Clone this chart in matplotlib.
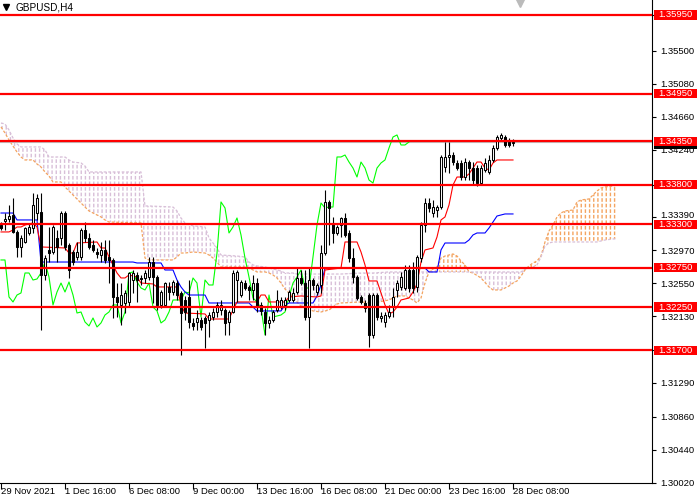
import matplotlib
matplotlib.use("Agg")
import matplotlib.pyplot as plt
import matplotlib.transforms as mtransforms
import numpy as np
from matplotlib.patches import Rectangle

plt.rcParams['font.family'] = ['Liberation Sans', 'DejaVu Sans']
plt.rcParams['hatch.linewidth'] = 1.0

# ---------------- data (GBPUSD H4 candles, bar 0 = 29 Nov 2021 00:00) ----------------
opens = [
    1.33289, 1.33340, 1.33366, 1.33416, 1.33201, 1.33011, 1.33074, 1.33188, 1.33251, 1.33441,
    1.33454, 1.32656, 1.32973, 1.32947, 1.33125, 1.33125, 1.33441, 1.33036, 1.32947, 1.32884,
    1.32884, 1.33226, 1.33125, 1.33036, 1.32947, 1.32909, 1.32973, 1.32884, 1.32846, 1.32377,
    1.32276, 1.32301, 1.32314, 1.32592, 1.32656, 1.32618, 1.32618, 1.32630, 1.32820, 1.32630,
    1.32276, 1.32276, 1.32504, 1.32440, 1.32554, 1.32428, 1.32339, 1.32377, 1.32048, 1.32060,
    1.32086, 1.32111, 1.32086, 1.32124, 1.32187, 1.32212, 1.32212, 1.32060, 1.32187, 1.32592,
    1.32402, 1.32554, 1.32504, 1.32466, 1.32554, 1.32276, 1.32187, 1.32048, 1.32086, 1.32212,
    1.32250, 1.32276, 1.32339, 1.32339, 1.32440, 1.32618, 1.32554, 1.32124, 1.32592, 1.32440,
    1.32529, 1.32934, 1.33581, 1.33315, 1.33188, 1.33289, 1.33378, 1.33188, 1.32871, 1.32630,
    1.32377, 1.32301, 1.32402, 1.31896, 1.32402, 1.32111, 1.32060, 1.32136, 1.32250, 1.32466,
    1.32504, 1.32491, 1.32719, 1.32719, 1.32504, 1.32871, 1.33289, 1.33568, 1.33441, 1.33479,
    1.33517, 1.34024, 1.34151, 1.34176, 1.34075, 1.34075, 1.33897, 1.34087, 1.34011, 1.34011,
    1.33821, 1.33986, 1.33961, 1.34113, 1.34265, 1.34392, 1.34404, 1.34341, 1.34328]
closes = [
    1.33251, 1.33366, 1.33403, 1.33201, 1.33011, 1.33125, 1.33251, 1.33264, 1.33543, 1.33631,
    1.32656, 1.32871, 1.32934, 1.33264, 1.33011, 1.33441, 1.33011, 1.32719, 1.32820, 1.32947,
    1.33226, 1.33125, 1.33011, 1.32973, 1.32922, 1.32973, 1.32846, 1.32846, 1.32377, 1.32314,
    1.32402, 1.32428, 1.32681, 1.32681, 1.32592, 1.32605, 1.32681, 1.32820, 1.32630, 1.32276,
    1.32440, 1.32554, 1.32440, 1.32567, 1.32402, 1.32174, 1.32187, 1.32060, 1.32010, 1.32111,
    1.31997, 1.32048, 1.32149, 1.32187, 1.32276, 1.32276, 1.32048, 1.32187, 1.32681, 1.32694,
    1.32567, 1.32491, 1.32466, 1.32554, 1.32250, 1.32200, 1.32048, 1.32086, 1.32187, 1.32339,
    1.32339, 1.32339, 1.32440, 1.32428, 1.32618, 1.32554, 1.32124, 1.32592, 1.32529, 1.32529,
    1.32934, 1.33581, 1.33505, 1.33188, 1.33264, 1.33378, 1.33163, 1.32871, 1.32630, 1.32364,
    1.32314, 1.32238, 1.31896, 1.32402, 1.32124, 1.32136, 1.32149, 1.32187, 1.32377, 1.32554,
    1.32630, 1.32719, 1.32491, 1.32491, 1.32884, 1.33289, 1.33568, 1.33505, 1.33517, 1.33517,
    1.34151, 1.34151, 1.34176, 1.34087, 1.34011, 1.33897, 1.34087, 1.34011, 1.33859, 1.33821,
    1.34011, 1.34075, 1.34113, 1.34265, 1.34404, 1.34430, 1.34303, 1.34303, 1.34341]
highs = [
    1.33327, 1.33441, 1.33543, 1.33631, 1.33226, 1.33163, 1.33264, 1.33315, 1.33695, 1.33682,
    1.33695, 1.32909, 1.33264, 1.33289, 1.33226, 1.33467, 1.33467, 1.33061, 1.32973, 1.33074,
    1.33251, 1.33327, 1.33188, 1.33099, 1.32998, 1.33074, 1.33099, 1.33099, 1.32871, 1.32554,
    1.32554, 1.32466, 1.32694, 1.32719, 1.32694, 1.32656, 1.32719, 1.32884, 1.32884, 1.32656,
    1.32466, 1.32567, 1.32567, 1.32592, 1.32592, 1.32453, 1.32390, 1.32592, 1.32111, 1.32212,
    1.32124, 1.32136, 1.32187, 1.32238, 1.32314, 1.32339, 1.32238, 1.32212, 1.32719, 1.32719,
    1.32592, 1.32592, 1.32529, 1.32656, 1.32618, 1.32314, 1.32238, 1.32136, 1.32212, 1.32466,
    1.32377, 1.32377, 1.32466, 1.32491, 1.32744, 1.32719, 1.32719, 1.32744, 1.32618, 1.32554,
    1.33036, 1.33733, 1.33606, 1.33391, 1.33289, 1.33391, 1.33441, 1.33226, 1.32998, 1.32656,
    1.32402, 1.32339, 1.32428, 1.32428, 1.32428, 1.32187, 1.32187, 1.32276, 1.32491, 1.32592,
    1.32694, 1.32783, 1.32783, 1.32820, 1.32909, 1.33327, 1.33631, 1.33631, 1.33606, 1.33543,
    1.34176, 1.34341, 1.34341, 1.34214, 1.34113, 1.34113, 1.34138, 1.34113, 1.34087, 1.34049,
    1.34049, 1.34138, 1.34176, 1.34303, 1.34430, 1.34455, 1.34430, 1.34392, 1.34379]
lows = [
    1.33226, 1.33226, 1.33327, 1.33188, 1.32884, 1.32884, 1.33061, 1.33163, 1.33188, 1.33353,
    1.31959, 1.32592, 1.32820, 1.32922, 1.32820, 1.33036, 1.32973, 1.32618, 1.32783, 1.32846,
    1.32846, 1.33074, 1.32986, 1.32947, 1.32871, 1.32820, 1.32808, 1.32554, 1.32111, 1.32124,
    1.32022, 1.32174, 1.32250, 1.32428, 1.32314, 1.32529, 1.32554, 1.32592, 1.32301, 1.32212,
    1.32238, 1.32250, 1.32339, 1.32402, 1.32339, 1.31642, 1.32086, 1.31984, 1.31959, 1.31959,
    1.31959, 1.31731, 1.31870, 1.32086, 1.32124, 1.32149, 1.31896, 1.31896, 1.32174, 1.32314,
    1.32377, 1.32466, 1.32339, 1.32339, 1.32187, 1.32149, 1.31896, 1.31984, 1.32060, 1.32187,
    1.32225, 1.32212, 1.32314, 1.32314, 1.32415, 1.32529, 1.32086, 1.31731, 1.32466, 1.32402,
    1.32428, 1.32909, 1.33036, 1.33061, 1.33163, 1.33137, 1.33137, 1.32820, 1.32554, 1.32339,
    1.32288, 1.32187, 1.31743, 1.31858, 1.32086, 1.32060, 1.31997, 1.32111, 1.32124, 1.32377,
    1.32466, 1.32466, 1.32440, 1.32428, 1.32440, 1.32820, 1.33201, 1.33454, 1.33391, 1.33391,
    1.33492, 1.33961, 1.33948, 1.34049, 1.33986, 1.33859, 1.33859, 1.33859, 1.33796, 1.33783,
    1.33796, 1.33961, 1.33935, 1.34087, 1.34240, 1.34366, 1.34278, 1.34278, 1.34290]

# Ichimoku lines (bar index, price)
tenkan_bars = [0, 2, 3, 4, 5, 6, 8, 9, 10, 16, 17, 18, 19, 24, 25, 26, 27, 28, 29, 30,
               31, 32, 34, 35, 38, 39, 44, 45, 46, 51, 52, 57, 58, 59, 64, 65, 66, 67, 71, 72,
               75, 79, 80, 81, 85, 86, 89, 90, 91, 92, 94, 95, 96, 97, 98, 99, 100, 102, 103, 104,
               105, 106, 108, 109, 110, 111, 112, 113, 114, 116, 117, 118, 119, 120, 121, 122, 123, 124, 128]
tenkan_vals = [1.33201, 1.33201, 1.33226, 1.33264, 1.33264, 1.33289, 1.33315, 1.33264, 1.33011, 1.32998,
               1.32934, 1.32934, 1.33061, 1.33074, 1.32998, 1.32998, 1.32884, 1.32783, 1.32681, 1.32618,
               1.32618, 1.32656, 1.32630, 1.32554, 1.32542, 1.32504, 1.32504, 1.32276, 1.32174, 1.32162,
               1.32098, 1.32098, 1.32212, 1.32314, 1.32314, 1.32402, 1.32402, 1.32314, 1.32314, 1.32377,
               1.32390, 1.32377, 1.32390, 1.32719, 1.32744, 1.33074, 1.33074, 1.32947, 1.32783, 1.32580,
               1.32580, 1.32428, 1.32276, 1.32162, 1.32187, 1.32250, 1.32339, 1.32364, 1.32440, 1.32542,
               1.32820, 1.32973, 1.32998, 1.33137, 1.33353, 1.33391, 1.33543, 1.33796, 1.33897, 1.33897,
               1.33936, 1.34011, 1.34087, 1.34087, 1.34011, 1.33986, 1.34075, 1.34113, 1.34113]
kijun_bars = [0, 3, 4, 9, 10, 33, 34, 40, 41, 43, 44, 45, 46, 47, 51, 52, 62, 63, 64, 70,
              71, 72, 78, 79, 80, 81, 106, 107, 109, 110, 111, 116, 117, 118, 119, 121, 122, 123, 124, 126, 128]
kijun_vals = [1.33441, 1.33441, 1.33353, 1.33353, 1.32820, 1.32820, 1.32808, 1.32808, 1.32719, 1.32719,
              1.32592, 1.32504, 1.32440, 1.32402, 1.32402, 1.32301, 1.32301, 1.32250, 1.32200, 1.32200,
              1.32276, 1.32301, 1.32301, 1.32390, 1.32529, 1.32744, 1.32744, 1.32694, 1.32694, 1.32973,
              1.33061, 1.33061, 1.33099, 1.33163, 1.33188, 1.33188, 1.33251, 1.33327, 1.33403, 1.33429, 1.33429]
cloud_bars = [0, 1, 2, 3, 4, 5, 6, 8, 9, 10,
              11, 12, 13, 15, 16, 17, 18, 20, 21, 22,
              24, 25, 26, 27, 35, 36, 37, 43, 44, 45,
              46, 48, 51, 52, 53, 54, 55, 59, 61, 62,
              63, 64, 66, 67, 68, 69, 70, 71, 72, 73,
              74, 75, 76, 78, 80, 82, 83, 84, 85, 90,
              93, 97, 99, 101, 103, 104, 105, 106, 107, 108,
              109, 110, 111, 113, 114, 115, 116, 117, 118, 120,
              122, 123, 125, 127, 128, 129, 130, 131, 132, 133,
              134, 135, 136, 137, 138, 139, 140, 141, 143, 144,
              145, 147, 148, 149, 150, 151, 153, 154]
span_a = [1.34531, 1.34455, 1.34366, 1.34290, 1.34214, 1.34151, 1.34113, 1.34113, 1.34062, 1.34024,
          1.33961, 1.33910, 1.33834, 1.33834, 1.33771, 1.33720, 1.33669, 1.33568, 1.33517, 1.33467,
          1.33416, 1.33391, 1.33353, 1.33327, 1.33315, 1.32871, 1.32846, 1.32846, 1.32884, 1.32934,
          1.32934, 1.32947, 1.32934, 1.32909, 1.32871, 1.32820, 1.32757, 1.32757, 1.32757, 1.32744,
          1.32719, 1.32694, 1.32694, 1.32681, 1.32656, 1.32618, 1.32554, 1.32478, 1.32428, 1.32377,
          1.32314, 1.32263, 1.32238, 1.32200, 1.32187, 1.32212, 1.32250, 1.32288, 1.32301, 1.32314,
          1.32301, 1.32339, 1.32390, 1.32390, 1.32339, 1.32301, 1.32364, 1.32554, 1.32694, 1.32732,
          1.32757, 1.32871, 1.32896, 1.32922, 1.32896, 1.32833, 1.32783, 1.32694, 1.32681, 1.32618,
          1.32504, 1.32466, 1.32466, 1.32516, 1.32554, 1.32580, 1.32643, 1.32719, 1.32770, 1.32808,
          1.32833, 1.32896, 1.33074, 1.33213, 1.33289, 1.33391, 1.33441, 1.33467, 1.33479, 1.33581,
          1.33606, 1.33619, 1.33669, 1.33720, 1.33758, 1.33771, 1.33784, 1.33796]
span_b = [1.34582, 1.34569, 1.34493, 1.34392, 1.34316, 1.34278, 1.34278, 1.34278, 1.34278, 1.34278,
          1.34240, 1.34151, 1.34151, 1.34151, 1.34151, 1.34113, 1.34087, 1.34075, 1.34037, 1.33961,
          1.33961, 1.33961, 1.33961, 1.33961, 1.33961, 1.33530, 1.33530, 1.33517, 1.33467, 1.33378,
          1.33315, 1.33277, 1.33264, 1.33125, 1.33061, 1.32998, 1.32909, 1.32896, 1.32884, 1.32820,
          1.32783, 1.32770, 1.32757, 1.32744, 1.32732, 1.32719, 1.32706, 1.32681, 1.32681, 1.32681,
          1.32668, 1.32668, 1.32668, 1.32668, 1.32668, 1.32668, 1.32668, 1.32668, 1.32668, 1.32681,
          1.32681, 1.32694, 1.32694, 1.32694, 1.32694, 1.32694, 1.32694, 1.32694, 1.32694, 1.32694,
          1.32694, 1.32694, 1.32694, 1.32694, 1.32694, 1.32694, 1.32694, 1.32694, 1.32694, 1.32694,
          1.32694, 1.32694, 1.32694, 1.32694, 1.32694, 1.32694, 1.32694, 1.32732, 1.32744, 1.32757,
          1.32783, 1.32884, 1.33023, 1.33061, 1.33074, 1.33074, 1.33074, 1.33074, 1.33074, 1.33074,
          1.33074, 1.33074, 1.33074, 1.33074, 1.33087, 1.33099, 1.33112, 1.33112]
chikou_shift = 26

level_prices = [1.3595, 1.3495, 1.3435, 1.3380, 1.3330, 1.3275, 1.3225, 1.3170]
level_labels = ["1.35950", "1.34950", "1.34350", "1.33800", "1.33300", "1.32750", "1.32250", "1.31700"]
# axis ticks; the labels at 1.35950, 1.33800 and 1.31700 sit under the level boxes
ytick_vals = [1.3595, 1.3550, 1.3508, 1.3466, 1.3424, 1.3380, 1.3339, 1.3297,
              1.3255, 1.3213, 1.3170, 1.3129, 1.3086, 1.3044, 1.3002]
ytick_labels = ["", "1.35500", "1.35080", "1.34660", "1.34240", "", "1.33390", "1.32970",
                "1.32550", "1.32130", "", "1.31290", "1.30860", "1.30440", "1.30020"]
xtick_bars = [0, 16, 32, 48, 64, 80, 96, 112, 128]
xtick_labels = ["29 Nov 2021", "1 Dec 16:00", "6 Dec 08:00", "9 Dec 00:00", "13 Dec 16:00",
                "16 Dec 08:00", "21 Dec 00:00", "23 Dec 16:00", "28 Dec 08:00"]
title = "GBPUSD,H4"

# ---------------- style ----------------
ORANGE = "#F4A460"
THISTLE = "#D8BFD8"
FS = 6.8

fig = plt.figure(figsize=(7, 5), dpi=100)
fig.patch.set_facecolor("white")
ax = fig.add_axes([0, 17 / 500, 652 / 700, 483 / 500])
ax.set_facecolor("white")
ax.set_xlim(-0.25, 162.75)
ax.set_ylim(1.30021, 1.3614)


def hatch_lw(coll, w):
    if hasattr(coll, "set_hatch_linewidth"):
        try:
            coll.set_hatch_linewidth(w)
        except Exception:
            pass


# cloud (vertical dotted hatch)
cx = np.array(cloud_bars, dtype=float)
a = np.array(span_a)
b = np.array(span_b)
c1 = ax.fill_between(cx, a, b, where=a >= b, interpolate=True, facecolor="none",
                     edgecolor=ORANGE, hatch="||||", linewidth=0, zorder=1)
c2 = ax.fill_between(cx, a, b, where=a < b, interpolate=True, facecolor="none",
                     edgecolor=THISTLE, hatch="||||", linewidth=0, zorder=1)
c3 = ax.fill_between(cx, a, b, facecolor="none", edgecolor="white", hatch="---",
                     linewidth=0, zorder=1.2)
hatch_lw(c1, 1.0)
hatch_lw(c2, 1.0)
hatch_lw(c3, 1.4)
ax.plot(cx, a, color=ORANGE, lw=0.9, ls=(0, (2.2, 1.4)), zorder=2)
ax.plot(cx, b, color=THISTLE, lw=0.9, ls=(0, (2.2, 1.4)), zorder=2)

# chikou, tenkan, kijun
n = len(closes)
idx = np.arange(n)
cl = np.array(closes)
ax.plot(idx[chikou_shift:] - chikou_shift, cl[chikou_shift:], color="#00FF00", lw=0.8, zorder=3)
ax.plot(tenkan_bars, tenkan_vals, color="#FF0000", lw=0.8, zorder=3.2)
ax.plot(kijun_bars, kijun_vals, color="#0000FF", lw=0.8, zorder=3.1)

# current bid line
ax.axhline(closes[-1], color="#C0C0C0", lw=0.8, zorder=2.5)

# candles
op = np.array(opens)
hi = np.array(highs)
lo = np.array(lows)
up = cl >= op
ax.vlines(idx, lo, hi, color="black", lw=0.8, zorder=4)
bottom = np.minimum(op, cl)
height = np.maximum(np.abs(cl - op), 0.00004)
ax.bar(idx[up], height[up], bottom=bottom[up], width=0.55, facecolor="white",
       edgecolor="black", linewidth=0.75, zorder=5)
ax.bar(idx[~up], height[~up], bottom=bottom[~up], width=0.55, facecolor="black",
       edgecolor="black", linewidth=0.75, zorder=5)

# horizontal levels
for p in level_prices:
    ax.axhline(p, color="#FF0000", lw=1.6, zorder=7)

# axes styling
for s in ("top", "left"):
    ax.spines[s].set_visible(False)
for s in ("right", "bottom"):
    ax.spines[s].set_color("black")
    ax.spines[s].set_linewidth(0.8)
ax.yaxis.tick_right()
ax.set_yticks(ytick_vals)
ax.set_yticklabels(ytick_labels)
ax.tick_params(axis="y", direction="out", length=3, width=0.8, labelsize=FS, pad=3)
# the 1.33390 label sits just above the 1.33300 box: nudge it up a little
lift = mtransforms.ScaledTranslation(0, 2.0 / 72, fig.dpi_scale_trans)
for lab in ax.get_yticklabels():
    if lab.get_text() == "1.33390":
        lab.set_transform(lab.get_transform() + lift)
ax.set_xticks(xtick_bars)
ax.set_xticklabels([])
ax.tick_params(axis="x", direction="out", length=4, width=0.8)
xtr = ax.get_xaxis_transform()
for bb, lab in zip(xtick_bars, xtick_labels):
    ax.text(bb + 0.1, -0.009, lab, transform=xtr, ha="left", va="top", fontsize=FS, clip_on=False)

# price labels on the axis
ytr = ax.get_yaxis_transform()
bx0 = 654 / 652
bw = 43 / 652
bh = 0.00116
ax.add_patch(Rectangle((bx0, closes[-1] - 0.00085), bw, bh, transform=ytr, facecolor="black",
                       edgecolor="none", clip_on=False, zorder=8))
for p, lab in zip(level_prices, level_labels):
    ax.add_patch(Rectangle((bx0, p - bh / 2), bw, bh, transform=ytr, facecolor="#FF0000",
                           edgecolor="none", clip_on=False, zorder=9))
    ax.text(bx0 + bw / 2, p, lab, transform=ytr, color="white", ha="center", va="center",
            fontsize=FS, clip_on=False, zorder=10)

# title and markers
ax.plot([6 / 652], [1 - 7 / 483], marker="v", color="black", ms=4, transform=ax.transAxes,
        clip_on=False, zorder=10)
ax.text(15 / 652, 1 - 8 / 483, title, transform=ax.transAxes, ha="left", va="center",
        fontsize=7.2, zorder=10)
ax.plot([520 / 652], [1 - 1 / 483], marker="v", color="#BBBBBB", ms=9, transform=ax.transAxes,
        clip_on=False, zorder=10)

fig.savefig("out.png", dpi=100, facecolor="white")
